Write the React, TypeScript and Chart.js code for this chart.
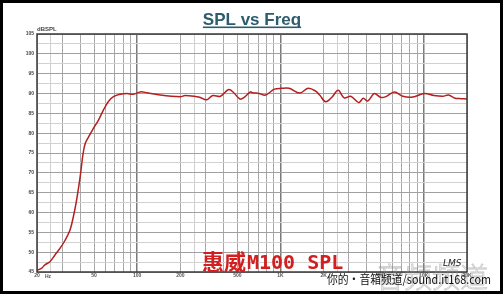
import React, { useEffect, useRef } from "react";
import { Chart, registerables } from "chart.js";

Chart.register(...registerables);

const freqs = [20, 21.6, 22.7, 24.6, 26.7, 29, 31.4, 34, 35.9, 37.8, 40, 42, 43.5, 45.7, 49.5, 53.7, 58.1, 63, 68.3, 76, 85, 94, 105, 117, 145, 200, 216, 260, 276, 304, 337, 381, 435, 472, 521, 561, 617, 638, 708, 786, 908, 1016, 1148, 1358, 1558, 1758, 1876, 2066, 2275, 2526, 2780, 3090, 3514, 3778, 4062, 4510, 5010, 5430, 6228, 7136, 8376, 10088, 11752, 13580, 14852, 16488, 18156, 20000];
const spl = [45.4, 46, 46.8, 47.6, 49.3, 51, 53, 55.6, 59, 63.2, 69, 75, 77.5, 79, 81.2, 83.3, 85.8, 88, 89.2, 89.8, 90, 89.8, 90.4, 90.2, 89.6, 89.2, 89.5, 89.2, 89.0, 88.4, 89.5, 89.3, 91.0, 90.2, 88.6, 89.1, 90.4, 90.2, 90.0, 89.6, 91.1, 91.3, 91.3, 90.1, 91.3, 90.6, 89.6, 87.9, 89.0, 90.8, 88.9, 89.3, 87.7, 88.8, 88.1, 90.0, 89.0, 89.2, 90.4, 89.3, 89.1, 90.0, 89.5, 89.3, 89.6, 88.8, 88.7, 88.6];

const xGridValues = [20, 25, 30, 40, 50, 60, 70, 80, 90, 100, 200, 250, 300, 400, 500, 600, 700, 800, 900, 1000, 2000, 2500, 3000, 4000, 5000, 6000, 7000, 8000, 9000, 10000, 20000];
const xLabelValues = [20, 50, 100, 200, 500, 1000, 2000, 5000, 10000, 20000];
const xLabelTexts = ["20", "50", "100", "200", "500", "1K", "2K", "5K", "10K", "20K"];
const xDecadeValues = [100, 1000, 10000];
const xLightValues = [25, 250, 2500];

const titleText = "SPL vs Freq";
const yUnitText = "dBSPL";
const modelText1 = "惠威";
const modelText2 = "M100 SPL";
const footerText = "你的•音箱频道/sound.it168.com";
const ghostText = "音频频道";

export default function App() {
  const ref = useRef<HTMLCanvasElement | null>(null);
  useEffect(() => {
    document.body.style.margin = "0";
    const canvas = ref.current!;
    const decor = {
      id: "decor",
      beforeDraw(chart: any) {
        const c = chart.ctx;
        c.save();
        c.fillStyle = "#ffffff";
        c.fillRect(0, 0, chart.width, chart.height);
        c.restore();
      },
      afterDraw(chart: any) {
        const c = chart.ctx;
        const a = chart.chartArea;
        c.save();
        // plot border
        c.strokeStyle = "#3a3a3a";
        c.lineWidth = 1.5;
        c.strokeRect(a.left, a.top, a.right - a.left, a.bottom - a.top);
        // title
        c.font = "bold 17px 'Liberation Sans', Arial, sans-serif";
        c.fillStyle = "#2d5c6c";
        c.textAlign = "center";
        c.textBaseline = "alphabetic";
        c.fillText(titleText, 252, 24.5);
        const tw = c.measureText(titleText).width;
        c.fillRect(252 - tw / 2, 26.5, tw, 1.6);
        // unit
        c.font = "bold 6px 'Liberation Sans', Arial, sans-serif";
        c.fillStyle = "#444";
        c.textAlign = "left";
        c.fillText(yUnitText, 37, 31);
        // Hz
        c.font = "bold 5px 'Liberation Sans', Arial, sans-serif";
        c.fillStyle = "#555";
        c.textBaseline = "middle";
        c.fillText("Hz", 45, 276.5);
        // ghost logo
        c.strokeStyle = "rgba(140,140,140,0.5)";
        c.lineWidth = 0.8;
        c.font = "300 28px 'Noto Sans CJK SC', sans-serif";
        c.textBaseline = "alphabetic";
        c.strokeText(ghostText, 376, 288, 118);
        c.font = "italic 9px 'DejaVu Sans', sans-serif";
        c.fillStyle = "#222";
        c.fillText("LMS", 443, 266);
        // model text
        c.fillStyle = "#d21f1f";
        c.font = "bold 22px 'Noto Sans CJK SC', sans-serif";
        c.textBaseline = "alphabetic";
        c.fillText(modelText1, 202, 270, 44);
        c.font = "bold 20px 'DejaVu Sans Mono', monospace";
        c.fillText(modelText2, 247, 269, 97);
        // footer
        c.fillStyle = "#111";
        c.font = "12px 'Noto Sans CJK SC', sans-serif";
        c.fillText(footerText, 327, 284, 164);
        // frame
        c.strokeStyle = "#000";
        c.lineWidth = 3;
        c.strokeRect(1.5, 1.5, 500, 291);
        c.restore();
      },
    };
    const chart = new Chart(canvas, {
      type: "line",
      data: {
        datasets: [
          {
            data: freqs.map((f, i) => ({ x: f, y: spl[i] })),
            borderColor: "#b3201f",
            borderWidth: 1.5,
            pointRadius: 0,
            tension: 0.35,
            fill: false,
          },
        ],
      },
      options: {
        animation: false,
        responsive: false,
        devicePixelRatio: 1,
        layout: { padding: { top: 34, right: 37, left: 0, bottom: 0 }, autoPadding: false },
        plugins: { legend: { display: false }, tooltip: { enabled: false }, title: { display: false } },
        scales: {
          x: {
            type: "logarithmic",
            min: 20,
            max: 20000,
            afterBuildTicks(scale: any) {
              scale.ticks = xGridValues.map((v) => ({ value: v }));
            },
            afterFit(scale: any) {
              scale.height = 24;
            },
            ticks: {
              autoSkip: false,
              maxRotation: 0,
              padding: 1,
              font: { size: 5, weight: "bold", family: "'Liberation Sans', Arial, sans-serif" },
              color: "#555",
              callback(value: any) {
                const idx = xLabelValues.indexOf(Number(value));
                return idx >= 0 ? xLabelTexts[idx] : "";
              },
            },
            grid: {
              drawTicks: false,
              color(ctx: any) {
                const v = ctx.tick ? ctx.tick.value : 0;
                if (xDecadeValues.indexOf(v) >= 0) return "#7a7a7a";
                if (xLightValues.indexOf(v) >= 0) return "#cfcfcf";
                return "#a8a8a8";
              },
              lineWidth(ctx: any) {
                const v = ctx.tick ? ctx.tick.value : 0;
                return xDecadeValues.indexOf(v) >= 0 ? 1.5 : 1;
              },
            },
            border: { display: false },
          },
          y: {
            min: 45,
            max: 105,
            afterFit(scale: any) {
              scale.width = 37;
            },
            ticks: {
              stepSize: 2.5,
              padding: 3,
              font: { size: 5, weight: "bold", family: "'Liberation Sans', Arial, sans-serif" },
              color: "#444",
              callback(value: any) {
                return Number(value) % 5 === 0 ? String(value) : "";
              },
            },
            grid: {
              drawTicks: false,
              color(ctx: any) {
                const v = ctx.tick ? ctx.tick.value : 0;
                return v % 5 === 0 ? "#a0a0a0" : "#d2d2d2";
              },
            },
            border: { display: false },
          },
        },
      },
      plugins: [decor],
    });
    return () => chart.destroy();
  }, []);
  return (
    <div style={{ position: "fixed", left: 0, top: 0, width: 504, height: 296 }}>
      <canvas ref={ref} width={504} height={296} style={{ width: 504, height: 296, display: "block" }} />
    </div>
  );
}
